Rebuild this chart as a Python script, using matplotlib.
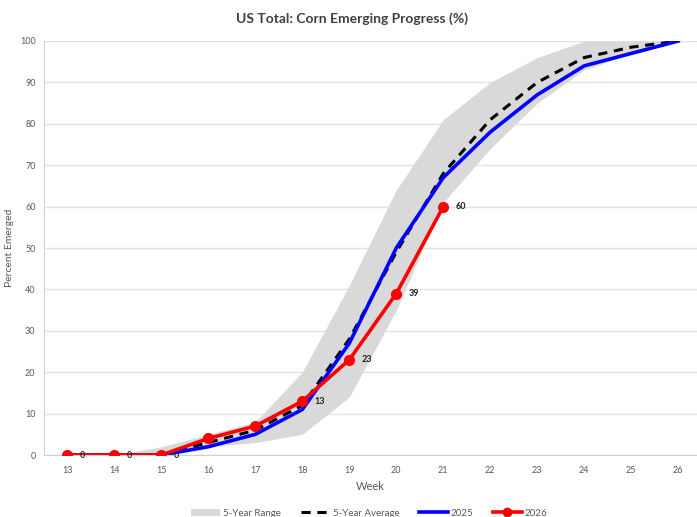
import numpy as np
import matplotlib.pyplot as plt
from matplotlib.patches import Patch
from matplotlib.lines import Line2D

plt.rcParams['font.family'] = ['Lato', 'DejaVu Sans']

weeks = np.arange(13, 27)
range_low = [0, 0, 0, 2, 3, 5, 14, 35, 61, 74, 85, 93, 97, 100]
range_high = [0, 0, 2, 5, 8, 20, 41, 64, 81, 90, 96, 100, 100, 100]
avg_5yr = [0, 0, 0, 3, 6, 12, 28, 49, 68, 81, 90, 96, 98.5, 100]
y2025 = [0, 0, 0, 2, 5, 11, 27, 50, 67, 78, 87, 94, 97, 100]
weeks_2026 = np.arange(13, 22)
y2026 = [0, 0, 0, 4, 7, 13, 23, 39, 60]
labeled_weeks = [13, 14, 15, 18, 19, 20, 21]

fig = plt.figure(figsize=(6.97, 5.17), dpi=100)
ax = fig.add_axes([0.063, 0.1199, 0.937, 0.8008])

ax.fill_between(weeks, range_low, range_high, color='#d9d9d9', lw=0, zorder=1)
ax.plot(weeks, avg_5yr, color='black', lw=2.2, ls=(0, (3, 2.2)), zorder=2)
ax.plot(weeks, y2025, color='#0000ff', lw=2.6, zorder=3)
ax.plot(weeks_2026, y2026, color='#ff0000', lw=2.6, marker='o', ms=7, zorder=4)

for w, v in zip(weeks_2026, y2026):
    if w in labeled_weeks:
        ax.annotate(f'{v}', (w, v), xytext=(9, 0), textcoords='offset points',
                    ha='left', va='center', fontsize=6.5, fontweight='bold',
                    color='#222222', zorder=5)

ax.set_xlim(12.5, 26.4)
ax.set_ylim(0, 100)
ax.set_xticks(weeks)
ax.set_yticks(np.arange(0, 101, 10))
ax.tick_params(axis='both', length=0, labelsize=6.5, labelcolor='#595959')
ax.tick_params(axis='x', pad=8)
ax.tick_params(axis='y', pad=6)
ax.grid(axis='y', color='#e3e3e3', lw=1)
ax.set_axisbelow(True)
for side in ['top', 'right']:
    ax.spines[side].set_visible(False)
ax.spines['left'].set_color('#d0d0d0')
ax.spines['bottom'].set_color('#d0d0d0')

ax.set_xlabel('Week', fontsize=8, color='#595959', labelpad=4)
ax.set_ylabel('Percent Emerged', fontsize=7.5, color='#595959', labelpad=4)
fig.suptitle('US Total: Corn Emerging Progress (%)', x=0.505, y=0.977,
             fontsize=10, fontweight='bold', color='#404040')

handles = [
    Patch(facecolor='#d9d9d9', edgecolor='none', label='5-Year Range'),
    Line2D([], [], color='black', lw=2.2, ls=(0, (3, 2.2)), label='5-Year Average'),
    Line2D([], [], color='#0000ff', lw=2.6, label='2025'),
    Line2D([], [], color='#ff0000', lw=2.6, marker='o', ms=6, label='2026'),
]
fig.legend(handles=handles, loc='lower center', bbox_to_anchor=(0.53, -0.018),
           ncol=4, frameon=False, fontsize=7, handlelength=3, columnspacing=2,
           handletextpad=0.3, labelcolor='#595959')

fig.savefig('out.png', dpi=100)
